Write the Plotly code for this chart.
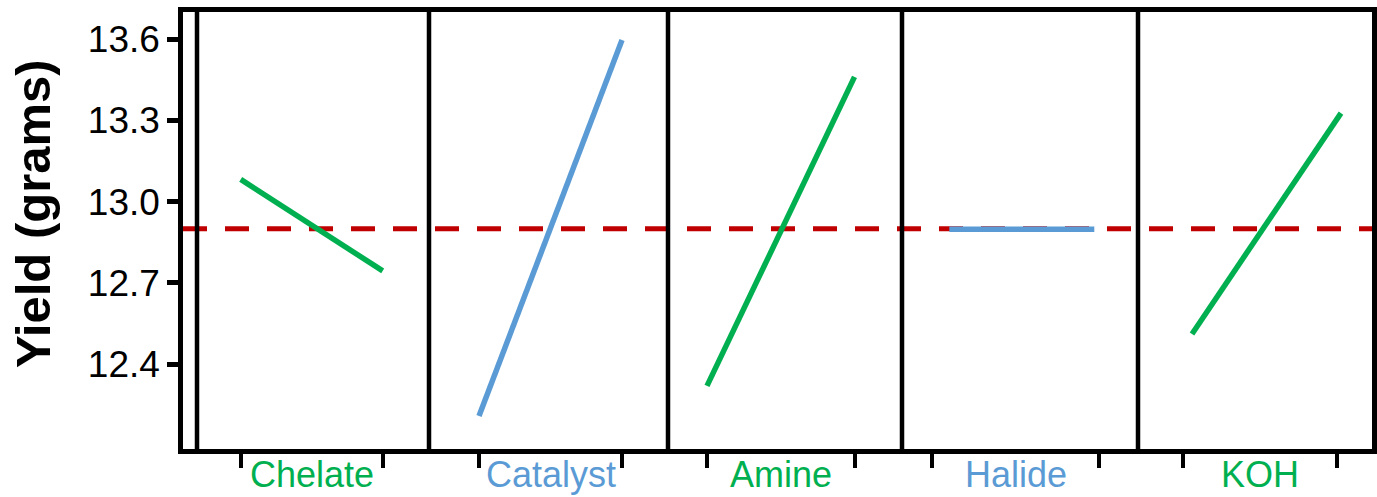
import plotly.graph_objects as go

# ---------------- data ----------------
factors = ["Chelate", "Catalyst", "Amine", "Halide", "KOH"]
levels = [0, 1]                      # low / high level of each factor
low_means = [13.082, 12.208, 12.319, 12.898, 12.511]
high_means = [12.744, 13.597, 13.461, 12.898, 13.327]
grand_mean = 12.90
y_ticks = [12.4, 12.7, 13.0, 13.3, 13.6]
y_tick_labels = ["12.4", "12.7", "13.0", "13.3", "13.6"]
factor_colors = ["#00B050", "#5B9BD5", "#00B050", "#5B9BD5", "#00B050"]

# ---------------- layout geometry (pixels) ----------------
W, H = 1377, 497
P_L, P_R, P_T, P_B = 183, 1372, 12, 449
panel_edges = [197, 429, 668, 902, 1138, 1372]
level_px = [(240.7, 382.7), (479, 622), (707, 854.5), (949.3, 1094.3), (1192, 1341)]
tick_px = [(240.7, 383.3), (479, 622), (706.7, 855), (932.3, 1099), (1183, 1337)]
y_range = [12.086, 13.7005]
FONT = "Arial, Liberation Sans, sans-serif"
BORDER = 4.5

pw = P_R - P_L


def fx(px):
    return (px - P_L) / pw


fig = go.Figure()

# grand mean reference line on the full-width base axis
fig.add_trace(go.Scatter(
    x=[0, 1], y=[grand_mean, grand_mean], mode="lines",
    line=dict(color="#C00000", width=5, dash="24px,18px"),
    xaxis="x", yaxis="y", hoverinfo="skip", showlegend=False))

layout = dict(
    width=W, height=H,
    margin=dict(l=P_L, r=W - P_R, t=P_T, b=H - P_B, pad=0, autoexpand=False),
    paper_bgcolor="white", plot_bgcolor="rgba(0,0,0,0)",
    showlegend=False,
    font=dict(family=FONT, color="black"),
    xaxis=dict(domain=[0, 1], range=[0, 1], showline=True, mirror=True,
               linecolor="black", linewidth=BORDER, showgrid=False, zeroline=False,
               showticklabels=False, ticks="", fixedrange=True, automargin=False),
    yaxis=dict(range=y_range, tickmode="array", tickvals=y_ticks,
               ticktext=y_tick_labels, ticks="outside", ticklen=11,
               tickwidth=4.5, tickcolor="black", showline=True, mirror=True,
               linecolor="black", linewidth=BORDER, showgrid=False, zeroline=False,
               automargin=False, fixedrange=True,
               tickfont=dict(size=37, family=FONT, color="black")),
)

shapes = []
annotations = []
for i, name in enumerate(factors):
    ax = i + 2
    L, R = panel_edges[i], panel_edges[i + 1]
    p0, p1 = level_px[i]
    d = p1 - p0
    rng = [(L - p0) / d, (R - p0) / d]
    t0 = (tick_px[i][0] - p0) / d
    t1 = (tick_px[i][1] - p0) / d
    layout[f"xaxis{ax}"] = dict(
        domain=[fx(L), fx(R)], range=rng, anchor="y", automargin=False,
        showline=False, showgrid=False, zeroline=False, fixedrange=True,
        tickmode="array", tickvals=[t0, t1], ticktext=["", ""],
        ticks="outside", ticklen=18, tickwidth=4, tickcolor="black",
    )
    fig.add_trace(go.Scatter(
        x=levels, y=[low_means[i], high_means[i]], mode="lines",
        line=dict(color=factor_colors[i], width=5.5),
        xaxis=f"x{ax}", yaxis="y", showlegend=False,
        hovertemplate=name + ": %{y:.3f}<extra></extra>"))
    # factor name centred between its two level ticks
    annotations.append(dict(
        text=name, showarrow=False, xref=f"x{ax}", yref="paper",
        x=(t0 + t1) / 2, y=0, xanchor="center", yanchor="top", yshift=-4,
        borderpad=0,
        font=dict(size=36, family=FONT, color=factor_colors[i])))
    # panel left border
    shapes.append(dict(type="line", xref="paper", yref="paper",
                       x0=fx(L), x1=fx(L), y0=0, y1=1,
                       line=dict(color="black", width=BORDER), layer="above"))

annotations.append(dict(
    text="<b>Yield (grams)</b>", textangle=-90, showarrow=False,
    xref="paper", yref="paper", x=fx(33), y=(P_B - 214) / (P_B - P_T),
    xanchor="center", yanchor="middle",
    font=dict(size=49, family=FONT, color="black")))

layout["shapes"] = shapes
layout["annotations"] = annotations

fig.update_layout(**layout)
fig.write_html("out.html", config={"displayModeBar": False},
               post_script="document.body.style.margin='0';")
